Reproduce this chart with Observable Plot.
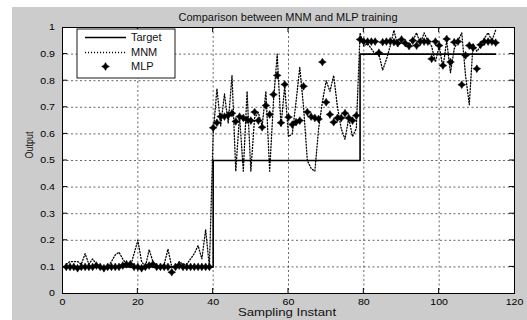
<!DOCTYPE html>
<html>
<head>
<meta charset="utf-8">
<script src="https://cdn.jsdelivr.net/npm/d3@7"></script>
<script src="https://cdn.jsdelivr.net/npm/@observablehq/plot@0.6"></script>
<style>
html,body{margin:0;padding:0;background:#fff;}
#chart{width:527px;height:320px;}
</style>
</head>
<body>
<div id="chart"></div>
<script>
// ---------- data ----------
const titleText = "Comparison between MNM and MLP training";
const xLabel = "Sampling Instant";
const yLabel = "Output";
const seriesNames = ["Target", "MNM", "MLP"];
const xTicks = [0, 20, 40, 60, 80, 100, 120];
const yTicks = [0, 0.1, 0.2, 0.3, 0.4, 0.5, 0.6, 0.7, 0.8, 0.9, 1];
const sampleInstant = d3.range(1, 116);

const target = [
  0.1,0.1,0.1,0.1,0.1,0.1,0.1,0.1,0.1,0.1,0.1,0.1,0.1,
  0.1,0.1,0.1,0.1,0.1,0.1,0.1,0.1,0.1,0.1,0.1,0.1,0.1,
  0.1,0.1,0.1,0.1,0.1,0.1,0.1,0.1,0.1,0.1,0.1,0.1,0.1,
  0.5,0.5,0.5,0.5,0.5,0.5,0.5,0.5,0.5,0.5,0.5,0.5,0.5,
  0.5,0.5,0.5,0.5,0.5,0.5,0.5,0.5,0.5,0.5,0.5,0.5,0.5,
  0.5,0.5,0.5,0.5,0.5,0.5,0.5,0.5,0.5,0.5,0.5,0.5,0.5,
  0.9,0.9,0.9,0.9,0.9,0.9,0.9,0.9,0.9,0.9,0.9,0.9,0.9,
  0.9,0.9,0.9,0.9,0.9,0.9,0.9,0.9,0.9,0.9,0.9,0.9,0.9,
  0.9,0.9,0.9,0.9,0.9,0.9,0.9,0.9,0.9,0.9,0.9
];

const mnmLow = [0.11,0.12,0.12,0.12,0.11,0.15,0.11,0.13,0.11,0.10,0.10,0.10,0.12,0.145,0.155,0.13,0.11,0.10,0.15,0.20,
  0.12,0.10,0.165,0.12,0.10,0.10,0.11,0.167,0.10,0.10,0.12,0.11,0.11,0.13,0.15,0.18,0.13,0.24,0.10];
const mnmMid = [0.60,0.77,0.63,0.75,0.64,0.82,0.46,0.67,0.46,0.76,0.46,0.66,0.68,0.63,0.76,0.46,0.72,0.90,
  0.63,0.78,0.59,0.60,0.72,0.85,0.70,0.50,0.47,0.46,0.62,0.72,0.80,0.76,0.82,0.70,0.62,0.58,0.66,0.59,0.62];
const mnmHigh = [0.98,0.93,0.94,0.92,0.90,0.90,0.84,0.88,0.93,0.99,0.93,0.95,0.94,0.93,0.95,0.98,0.94,0.98,0.95,
  0.93,0.87,0.93,0.85,0.95,0.83,0.92,0.95,0.98,0.82,0.71,0.94,0.91,0.93,0.96,0.98,0.95,0.99];

const mlpLow = [0.10,0.10,0.10,0.095,0.10,0.10,0.10,0.10,0.105,0.10,0.095,0.10,0.10,0.10,0.10,0.105,0.11,0.11,0.10,0.10,
  0.095,0.10,0.105,0.11,0.10,0.10,0.10,0.10,0.08,0.10,0.105,0.10,0.10,0.10,0.10,0.10,0.10,0.10,0.10];
const mlpMid = [0.623,0.642,0.665,0.665,0.67,0.678,0.647,0.665,0.66,0.653,0.65,0.682,0.65,0.625,0.707,0.673,0.748,0.82,
  0.642,0.786,0.663,0.635,0.644,0.65,0.779,0.682,0.665,0.66,0.656,0.87,0.719,0.673,0.644,0.66,0.66,0.678,0.66,0.65,0.669];
const mlpHigh = [0.955,0.947,0.947,0.947,0.947,0.905,0.945,0.947,0.948,0.945,0.941,0.955,0.941,0.93,0.951,0.932,0.947,0.947,0.947,
  0.882,0.947,0.932,0.857,0.957,0.87,0.945,0.947,0.785,0.895,0.932,0.924,0.845,0.935,0.947,0.947,0.947,0.943];

// ---------- build ----------
const mnmAll = [...mnmLow, ...mnmMid, ...mnmHigh];
const mlpAll = [...mlpLow, ...mlpMid, ...mlpHigh];
const rows = sampleInstant.map((x, i) => ({x, target: target[i], mnm: mnmAll[i], mlp: mlpAll[i]}));

const star4 = {
  draw(context, size) {
    const r = Math.sqrt(size / Math.PI);
    const w = r * 0.38;
    context.moveTo(0, -r);
    context.lineTo(w, -w);
    context.lineTo(r, 0);
    context.lineTo(w, w);
    context.lineTo(0, r);
    context.lineTo(-w, w);
    context.lineTo(-r, 0);
    context.lineTo(-w, -w);
    context.closePath();
  }
};
const markerR = 3.9;
const FONT = '"Liberation Sans", Arial, Helvetica, sans-serif';
const gridStyle = {stroke: "#000", strokeOpacity: 0.75, strokeWidth: 0.8, strokeDasharray: "2,2.5"};
const dotted = "1.1,1.9";

const plot = Plot.plot({
  width: 527,
  height: 320,
  marginLeft: 62,
  marginRight: 13,
  marginTop: 27,
  marginBottom: 27,
  style: {fontFamily: FONT, fontSize: "9px", background: "white", color: "black", overflow: "visible"},
  x: {domain: [0, 120], ticks: xTicks, tickSize: 0, tickPadding: 5, label: null},
  y: {domain: [0, 1], ticks: yTicks, tickSize: 0, tickPadding: 7.5, label: null,
      tickFormat: d => String(+d.toFixed(1))},
  marks: [
    Plot.frame({fill: "white"}),
    Plot.ruleX(xTicks.filter(t => t > 0 && t < 120), gridStyle),
    Plot.ruleY(yTicks.filter(t => t > 0 && t < 1), gridStyle),
    Plot.line(rows, {x: "x", y: "mnm", stroke: "black", strokeWidth: 1.3, strokeDasharray: dotted}),
    Plot.line(rows, {x: "x", y: "target", curve: "step-after", stroke: "black", strokeWidth: 1.6}),
    Plot.dot(rows, {x: "x", y: "mlp", symbol: star4, r: markerR, fill: "black", stroke: "black", strokeWidth: 0.5}),
    Plot.frame({stroke: "black", strokeWidth: 1})
  ]
});

document.getElementById("chart").appendChild(plot);
const svg = d3.select(plot);

// stretch tick labels horizontally (as in the reference)
svg.selectAll("text").each(function () {
  const t = this.getAttribute("transform") || "";
  this.setAttribute("transform", (t + " scale(1.18,1)").trim());
});

// gray figure background
svg.insert("rect", ":first-child")
  .attr("x", 12).attr("y", 7).attr("width", 515).attr("height", 313)
  .attr("fill", "#cccccc");

// inward ticks through the plot scales
const sx = plot.scale("x"), sy = plot.scale("y");
const X = d3.scaleLinear(sx.domain, sx.range);
const Y = d3.scaleLinear(sy.domain, sy.range);
const tg = svg.append("g").attr("stroke", "black").attr("stroke-width", 1);
xTicks.filter(t => t > 0 && t < 120).forEach(t => {
  tg.append("line").attr("x1", X(t)).attr("x2", X(t)).attr("y1", Y(0)).attr("y2", Y(0) - 5);
  tg.append("line").attr("x1", X(t)).attr("x2", X(t)).attr("y1", Y(1)).attr("y2", Y(1) + 5);
});
yTicks.filter(t => t > 0 && t < 1).forEach(t => {
  tg.append("line").attr("y1", Y(t)).attr("y2", Y(t)).attr("x1", X(0)).attr("x2", X(0) + 5);
  tg.append("line").attr("y1", Y(t)).attr("y2", Y(t)).attr("x1", X(120)).attr("x2", X(120) - 5);
});

// title and axis labels
const cx = (X(0) + X(120)) / 2;
svg.append("text").text(titleText)
  .attr("transform", `translate(${cx},20.5) scale(1.1,1)`)
  .attr("text-anchor", "middle").attr("font-size", 10).attr("font-family", FONT).attr("fill", "#111");
svg.append("text").text(xLabel)
  .attr("transform", `translate(${cx - 1},316) scale(1.2,1)`)
  .attr("text-anchor", "middle").attr("font-size", 11).attr("font-family", FONT).attr("fill", "#111");
svg.append("text").text(yLabel)
  .attr("transform", `translate(32.5,145) rotate(-90) scale(0.85,1)`)
  .attr("text-anchor", "middle").attr("font-size", 10.5).attr("font-family", FONT).attr("fill", "#111");

// legend
const lg = svg.append("g");
lg.append("rect").attr("x", 77).attr("y", 29).attr("width", 98).attr("height", 49)
  .attr("fill", "white").attr("stroke", "black").attr("stroke-width", 0.9);
const rowsY = [37.5, 52.5, 66.5];
lg.append("line").attr("x1", 85).attr("x2", 126).attr("y1", rowsY[0]).attr("y2", rowsY[0])
  .attr("stroke", "black").attr("stroke-width", 1.6);
lg.append("line").attr("x1", 85).attr("x2", 126).attr("y1", rowsY[1]).attr("y2", rowsY[1])
  .attr("stroke", "black").attr("stroke-width", 1.3).attr("stroke-dasharray", dotted);
lg.append("path").attr("transform", `translate(105.5,${rowsY[2]})`)
  .attr("d", d3.symbol().type(star4).size(markerR * markerR * Math.PI)())
  .attr("fill", "black").attr("stroke", "black").attr("stroke-width", 0.5);
seriesNames.forEach((name, i) => {
  lg.append("text").text(name)
    .attr("transform", `translate(131,${rowsY[i] + 3.6}) scale(1.1,1)`)
    .attr("text-anchor", "start")
    .attr("font-size", 10).attr("font-family", FONT).attr("fill", "#111");
});
</script>
</body>
</html>
